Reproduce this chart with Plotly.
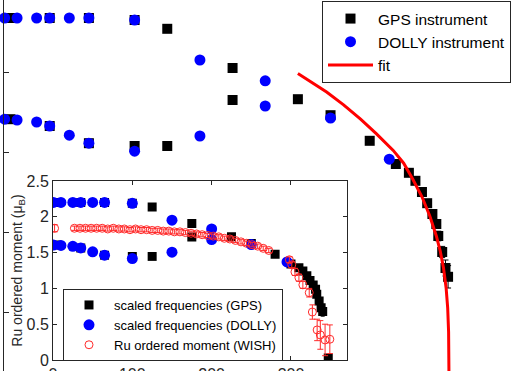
import plotly.graph_objects as go

# ---------------- data ----------------
# scale between NMR frequency (MHz) and scaled moment (muB)
FREQ_PER_MUB = 21.25

# GPS instrument: temperature (K), frequency (MHz), error (MHz)
gps_T = [5, 35, 65, 100, 125, 175,
         5, 35, 65, 100, 125, 175,
         225, 250, 280, 300, 310, 315, 320, 324, 328, 331, 332.5, 335.5, 338, 340, 347]
gps_f = [46.75, 46.75, 46.75, 46.5, 45.4, 40.5,
         34.1, 33.25, 31.1, 30.75, 30.75, 36.5,
         36.6, 34.6, 31.4, 28.5, 27.4, 26.4, 25.0, 23.6, 22.25, 21.0, 19.5, 17.5, 15.5, 14.4, 0.6]
gps_err = [0.4, 0.4, 0.4, 0.4, 0.4, 0.4,
           0.4, 0.4, 0.4, 0.4, 0.4, 0.4,
           0.4, 0.4, 0.4, 0.4, 0.4, 0.4, 0.4, 0.4, 0.4, 0.5, 0.6, 0.7, 1.0, 1.4, 0.5]

# DOLLY instrument
dolly_T = [0.5, 10, 25, 35, 50, 65, 100, 150, 200,
           0.5, 10, 25, 35, 50, 65, 100, 150, 200,
           250, 295]
dolly_f = [46.75, 46.75, 46.75, 46.75, 46.75, 46.75, 46.5, 41.5, 38.9,
           34.1, 34.0, 33.75, 33.25, 32.1, 31.1, 30.1, 32.0, 35.75,
           34.25, 29.1]
dolly_err = [0.3] * 20

# fit curve
fit_T = [225, 235, 247, 260, 273, 285, 298, 306, 313, 320, 326, 331, 334,
         336.5, 338.5, 339.7, 340.4, 340.8]
fit_f = [39.8, 38.8, 37.5, 35.9, 34.1, 32.3, 30.2, 28.6, 26.6, 24.4, 22.0, 19.5,
         17.6, 15.5, 13.0, 10.5, 7.5, 0.0]

# WISH: Ru ordered moment (muB)
wish_T = [2, 27, 34, 41, 48, 55, 62, 69, 76, 83, 90, 97, 104, 111, 118, 125, 132,
          139, 146, 153, 160, 167, 174, 181, 188, 195, 202, 209, 216, 223, 230,
          237, 244, 251, 258, 265, 272,
          298, 301, 305, 310, 315, 323, 327, 333, 337, 343, 349]
wish_m = [1.84, 1.84, 1.84, 1.84, 1.84, 1.84, 1.84, 1.83, 1.84, 1.83, 1.83, 1.82,
          1.83, 1.82, 1.82, 1.81, 1.81, 1.80, 1.80, 1.79, 1.79, 1.78, 1.77, 1.76,
          1.75, 1.74, 1.73, 1.72, 1.70, 1.69, 1.67, 1.65, 1.63, 1.61, 1.59, 1.56,
          1.53,
          1.40, 1.33, 1.23, 1.15, 1.05, 0.94, 0.67, 0.42, 0.35, 0.28, 0.29]
wish_err = [0.05] + [0.03] * 36 + [0.04, 0.04, 0.05, 0.05, 0.05, 0.06, 0.1, 0.15,
                                   0.2, 0.22, 0.2]

main_ticks = [10, 20, 30, 40]
inset_xticks = [0, 100, 200, 300]
inset_yticks = [0, 0.5, 1, 1.5, 2, 2.5]

# scaled values for the inset
gps_m = [v / FREQ_PER_MUB for v in gps_f]
gps_merr = [v / FREQ_PER_MUB for v in gps_err]
dolly_m = [v / FREQ_PER_MUB for v in dolly_f]
dolly_merr = [v / FREQ_PER_MUB for v in dolly_err]

# ---------------- figure ----------------
W, H = 519, 371
FONT = "Liberation Sans, Arial, Helvetica, sans-serif"
AX = "#262626"

fig = go.Figure()

# main plot
fig.add_trace(go.Scatter(
    x=gps_T, y=gps_f, mode="markers", name="GPS instrument",
    marker=dict(symbol="square", size=10, color="black"),
    error_y=dict(type="data", array=gps_err, color="black", thickness=1, width=3),
    cliponaxis=False, xaxis="x", yaxis="y", legend="legend"))
fig.add_trace(go.Scatter(
    x=dolly_T, y=dolly_f, mode="markers", name="DOLLY instrument",
    marker=dict(symbol="circle", size=11, color="#0000ff"),
    error_y=dict(type="data", array=dolly_err, color="#0000ff", thickness=1, width=3),
    cliponaxis=False, xaxis="x", yaxis="y", legend="legend"))
fig.add_trace(go.Scatter(
    x=fit_T, y=fit_f, mode="lines", name="fit",
    line=dict(color="#ff0000", width=3),
    xaxis="x", yaxis="y", legend="legend"))

# inset
fig.add_trace(go.Scatter(
    x=gps_T, y=gps_m, mode="markers", name="scaled frequencies (GPS)",
    marker=dict(symbol="square", size=9, color="black"),
    error_y=dict(type="data", array=gps_merr, color="black", thickness=1, width=2),
    xaxis="x2", yaxis="y2", legend="legend2"))
fig.add_trace(go.Scatter(
    x=dolly_T, y=dolly_m, mode="markers", name="scaled frequencies (DOLLY)",
    marker=dict(symbol="circle", size=11, color="#0000ff"),
    error_y=dict(type="data", array=dolly_merr, color="#0000ff", thickness=1, width=2),
    xaxis="x2", yaxis="y2", legend="legend2"))
fig.add_trace(go.Scatter(
    x=wish_T, y=wish_m, mode="markers", name="Ru ordered moment (WISH)",
    marker=dict(symbol="circle-open", size=8, color="#ff2a2a", line=dict(width=1)),
    error_y=dict(type="data", array=wish_err, color="#ff2a2a", thickness=1, width=3),
    xaxis="x2", yaxis="y2", legend="legend2"))

fig.update_layout(
    width=W, height=H, autosize=False,
    margin=dict(l=0, r=0, t=0, b=0, pad=0, autoexpand=False),
    paper_bgcolor="white", plot_bgcolor="white",
    font=dict(family=FONT, color="black"),
    xaxis=dict(domain=[4 / W, 1], range=[0, 394.3], showline=False, showgrid=False,
               zeroline=False, showticklabels=False, ticks="", automargin=False),
    yaxis=dict(domain=[0, 1], range=[2.625, 49], showline=True, linecolor=AX,
               linewidth=1, ticks="inside", ticklen=5, tickcolor=AX,
               tickvals=main_ticks, showticklabels=False, showgrid=False,
               zeroline=False, automargin=False),
    xaxis2=dict(domain=[53 / W, 346.5 / W], range=[0, 370], anchor="y2",
                showline=True, linecolor=AX, linewidth=1, mirror="ticks",
                ticks="inside", ticklen=4, tickcolor=AX, tickvals=inset_xticks,
                tickfont=dict(size=16, color=AX), showgrid=False, zeroline=False,
                automargin=False),
    yaxis2=dict(domain=[(H - 360) / H, (H - 181) / H], range=[0, 2.5], anchor="x2",
                showline=True, linecolor=AX, linewidth=1, mirror="ticks",
                ticks="inside", ticklen=4, tickcolor=AX, tickvals=inset_yticks,
                ticktext=["0", "0.5", "1", "1.5", "2", "2.5"],
                tickfont=dict(size=16, color=AX), showgrid=False, zeroline=False,
                automargin=False,
                title=dict(text="Ru ordered moment (μ<sub>B</sub>)",
                           font=dict(size=14, color=AX), standoff=0)),
    legend=dict(x=322 / W, y=1 - 1 / H, xanchor="left", yanchor="top",
                bgcolor="white", bordercolor=AX, borderwidth=1,
                font=dict(size=15.5, color="black"), itemwidth=45,
                tracegroupgap=0),
    legend2=dict(x=63 / W, y=1 - 289 / H, xanchor="left", yanchor="top",
                 bgcolor="white", bordercolor=AX, borderwidth=1,
                 font=dict(size=13, color="black"), itemwidth=40,
                 tracegroupgap=0),
    showlegend=True,
)

fig.write_html(
    "out.html",
    config={"displayModeBar": False},
    post_script="document.body.style.margin='0';document.body.style.overflow='hidden';",
)
